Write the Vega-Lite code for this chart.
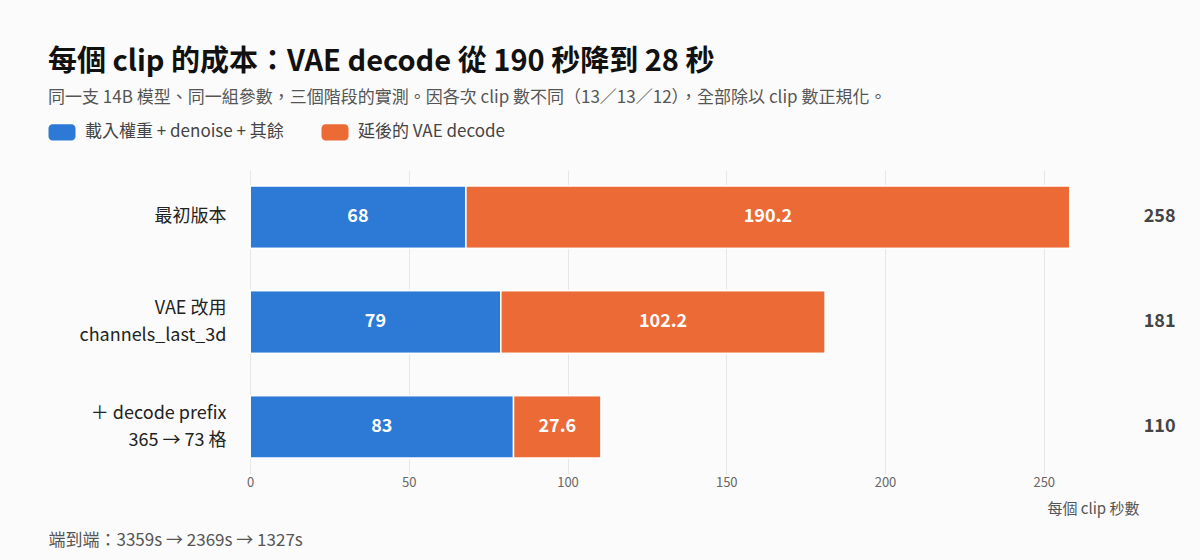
{
  "$schema": "https://vega.github.io/schema/vega-lite/v6.json",
  "autosize": "none",
  "width": 889,
  "height": 304,
  "padding": {"left": 250, "top": 170, "right": 61, "bottom": 86},
  "background": "#fbfbfb",
  "title": {
    "text": "每個 clip 的成本：VAE decode 從 190 秒降到 28 秒",
    "subtitle": "同一支 14B 模型、同一組參數，三個階段的實測。因各次 clip 數不同（13／13／12），全部除以 clip 數正規化。",
    "anchor": "start",
    "frame": "group",
    "dx": -202,
    "offset": 17,
    "fontSize": 29,
    "fontWeight": "bold",
    "color": "#111111",
    "subtitleFontSize": 17,
    "subtitleColor": "#555555",
    "subtitlePadding": 13
  },
  "data": {
    "values": [
      {"stage": "最初版本", "base": 68, "decode": 190.2, "total": 258},
      {"stage": "VAE 改用\nchannels_last_3d", "base": 79, "decode": 102.2, "total": 181},
      {"stage": "＋ decode prefix\n365 → 73 格", "base": 83, "decode": 27.6, "total": 110}
    ]
  },
  "encoding": {
    "y": {
      "field": "stage",
      "type": "nominal",
      "sort": null,
      "scale": {"paddingInner": 0.4, "paddingOuter": 0.15},
      "axis": {
        "title": "端到端：3359s → 2369s → 1327s",
        "titleAngle": 0,
        "titleX": -202,
        "titleY": 370,
        "titleAlign": "left",
        "titleBaseline": "middle",
        "titleFontSize": 17,
        "titleFontWeight": "normal",
        "titleColor": "#555555",
        "labelExpr": "split(datum.label, '\\n')",
        "labelOffset": {"expr": "indexof(datum.label, '\\n') >= 0 ? -13 : 0"},
        "labelFontSize": 18,
        "labelColor": "#222222",
        "labelLineHeight": 27,
        "labelPadding": 24,
        "ticks": false,
        "domain": false
      }
    }
  },
  "layer": [
    {
      "transform": [{"fold": ["base", "decode"], "as": ["part", "value"]}],
      "layer": [
        {
          "mark": {
            "type": "bar",
            "stroke": "#ffffff",
            "strokeWidth": 1.5,
            "cornerRadiusTopRight": {"expr": "datum.part == 'decode' ? 4 : 0"},
            "cornerRadiusBottomRight": {"expr": "datum.part == 'decode' ? 4 : 0"}
          },
          "encoding": {
            "x": {
              "field": "value",
              "type": "quantitative",
              "stack": "zero",
              "scale": {"domain": [0, 280], "nice": false},
              "axis": {
                "values": [0, 50, 100, 150, 200, 250],
                "title": "每個 clip 秒數",
                "titleAnchor": "end",
                "titleAlign": "right",
                "titleX": 889,
                "titleY": 27,
                "titleFontSize": 15,
                "titleFontWeight": "normal",
                "titleColor": "#555555",
                "labelFontSize": 13,
                "labelColor": "#666666",
                "labelPadding": 2,
                "labelFlush": false,
                "ticks": false,
                "domain": false,
                "grid": true,
                "gridColor": "#e6e6e6"
              }
            },
            "order": {"field": "part", "type": "nominal", "sort": "ascending"},
            "color": {
              "field": "part",
              "type": "nominal",
              "scale": {"domain": ["base", "decode"], "range": ["#2d7ad6", "#ec6a36"]},
              "legend": {
                "orient": "none",
                "direction": "horizontal",
                "legendX": -197,
                "legendY": -47,
                "title": null,
                "symbolType": "M-1.05,-0.9 H1.05 A0.45,0.45 0 0 1 1.5,-0.45 V0.45 A0.45,0.45 0 0 1 1.05,0.9 H-1.05 A0.45,0.45 0 0 1 -1.5,0.45 V-0.45 A0.45,0.45 0 0 1 -1.05,-0.9 Z",
                "symbolSize": 324,
                "symbolOpacity": 1,
                "symbolStrokeWidth": 0,
                "labelExpr": "datum.label == 'base' ? '載入權重 + denoise + 其餘' : '延後的 VAE decode'",
                "labelFontSize": 17,
                "labelColor": "#444444",
                "labelLimit": 300,
                "labelOffset": 14,
                "columnPadding": 37
              }
            }
          }
        },
        {
          "mark": {"type": "text", "fontSize": 18, "fontWeight": "bold", "color": "#ffffff"},
          "encoding": {
            "x": {"field": "value", "type": "quantitative", "stack": "zero", "bandPosition": 0.5},
            "order": {"field": "part", "type": "nominal", "sort": "ascending"},
            "detail": {"field": "part"},
            "text": {"field": "value", "type": "quantitative"}
          }
        }
      ]
    },
    {
      "mark": {"type": "text", "fontSize": 18, "fontWeight": "bold", "color": "#444444"},
      "encoding": {
        "x": {"datum": 286.5, "type": "quantitative"},
        "text": {"field": "total", "type": "quantitative"}
      }
    }
  ],
  "config": {
    "font": "Noto Sans CJK TC",
    "view": {"stroke": null},
    "axis": {"labelFont": "Noto Sans CJK TC", "titleFont": "Noto Sans CJK TC"}
  }
}
